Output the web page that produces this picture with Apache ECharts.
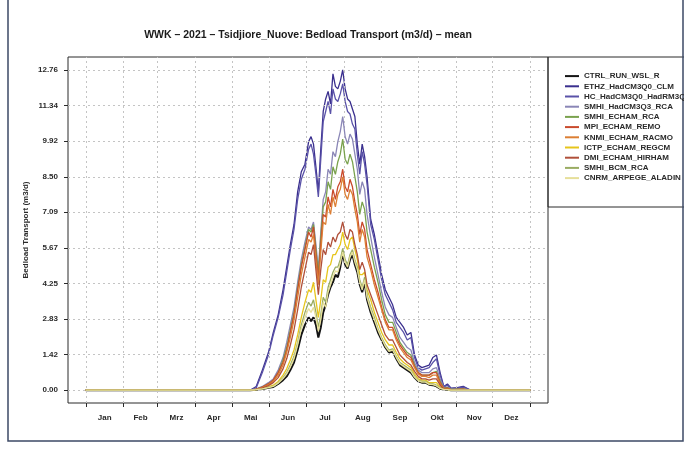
<!DOCTYPE html>
<html>
<head>
<meta charset="utf-8">
<script src="https://cdn.jsdelivr.net/npm/echarts@6/dist/echarts.min.js"></script>
<style>html,body{margin:0;padding:0;background:#fff;}#c{width:684px;height:450px;}</style>
</head>
<body>
<div id="c"></div>
<script>
// ---- data (day of year, 0 = 1 Jan) ----
const days = [0,31,59,90,120,
 130,135,140,145,150, 154,158,162,165,168, 171,174,177,180,183,
 185,187,189,191,193, 195,197,199,201,203, 205,207,209,211,213,
 215,217,219,221,223, 225,227,229,231,234, 237,240,243,246,249,
 252,255,258,261,264, 267,270,273,276,279, 282,285,288,291,294,
 297,300,305,310,315, 320,335,365];

const CTRL_RUN_WSL_R = [0,0,0,0,0,
 0,0,0.02,0.05,0.1, 0.13,0.25,0.4,0.55,0.8, 1.1,1.6,2.2,2.6,2.9,
 2.75,2.9,2.6,2.1,2.5, 3.1,3.4,3.8,4.1,4.3, 4.6,4.5,4.9,5.45,5.0,
 4.85,5.2,5.4,5.0,4.7, 4.2,3.9,4.3,3.6,3.1, 2.7,2.3,2.0,1.7,1.5,
 1.55,1.25,1.0,0.9,0.8, 0.7,0.5,0.35,0.3,0.3, 0.22,0.2,0.15,0.06,0.03,
 0.02,0,0,0,0, 0,0,0];
const ETHZ_HadCM3Q0_CLM = [0,0,0,0,0,
 0,0,0.15,0.8,1.5, 2.3,3.0,4.0,4.9,5.8, 6.6,7.9,8.7,9.0,9.9,
 10.1,9.8,8.9,7.9,9.6, 11.1,11.6,11.9,11.4,12.6, 12.1,12.0,12.3,12.76,12.0,
 11.6,11.5,11.2,10.9,9.8, 9.0,9.8,9.3,8.5,6.8, 6.2,5.4,4.6,4.0,3.7,
 3.4,2.9,2.7,2.5,2.2, 2.3,1.4,1.0,0.9,0.95, 1.0,1.3,1.4,0.7,0.15,
 0.25,0.08,0.1,0.15,0.02, 0,0,0];
const HC_HadCM3Q0_HadRM3Q0 = [0,0,0,0,0,
 0,0,0.1,0.7,1.4, 2.2,2.9,3.8,4.7,5.6, 6.4,7.6,8.4,8.8,9.6,
 9.8,9.4,8.6,7.7,9.2, 10.7,11.1,11.5,11.0,12.0, 11.6,11.5,11.8,12.2,11.5,
 11.1,11.0,10.6,10.4,9.4, 8.6,9.5,9.0,8.2,6.6, 6.0,5.2,4.4,3.8,3.5,
 3.2,2.7,2.5,2.3,2.0, 2.1,1.3,0.9,0.8,0.85, 0.9,1.1,1.25,0.6,0.12,
 0.2,0.06,0.08,0.12,0.02, 0,0,0];
const SMHI_HadCM3Q3_RCA = [0,0,0,0,0,
 0,0,0.05,0.15,0.3, 0.45,0.8,1.3,1.9,2.6, 3.3,4.3,5.2,5.9,6.5,
 6.4,6.7,5.8,4.8,6.3, 7.6,7.9,8.8,8.6,9.5, 9.3,9.9,10.3,10.9,10.1,
 9.8,10.2,10.0,9.4,8.8, 7.8,8.3,8.0,7.0,6.1, 5.3,4.6,3.9,3.3,3.0,
 2.9,2.5,2.1,1.9,1.7, 1.6,1.1,0.8,0.7,0.7, 0.7,0.85,0.9,0.45,0.1,
 0.12,0.04,0.05,0.06,0, 0,0,0];
const SMHI_ECHAM_RCA = [0,0,0,0,0,
 0,0,0.04,0.12,0.25, 0.4,0.7,1.2,1.7,2.4, 3.1,4.1,5.0,5.7,6.4,
 6.3,6.6,5.6,4.6,6.1, 7.3,7.5,8.3,8.0,8.9, 8.6,9.1,9.4,10.0,9.2,
 9.0,9.4,9.1,8.5,7.9, 7.0,7.5,7.2,6.3,5.6, 4.9,4.3,3.6,3.0,2.7,
 2.7,2.3,1.9,1.7,1.5, 1.4,1.0,0.7,0.6,0.6, 0.6,0.7,0.75,0.35,0.08,
 0.1,0.03,0.04,0.05,0, 0,0,0];
const MPI_ECHAM_REMO = [0,0,0,0,0,
 0,0,0.04,0.12,0.25, 0.4,0.7,1.1,1.6,2.3, 3.0,4.0,4.9,5.6,6.3,
 6.1,6.5,5.4,4.4,5.8, 7.0,6.9,7.7,7.3,8.0, 7.6,8.1,8.3,8.8,8.1,
 7.9,8.4,8.1,7.5,7.0, 6.2,6.7,6.4,5.6,5.0, 4.4,3.9,3.3,2.8,2.5,
 2.5,2.1,1.8,1.6,1.4, 1.3,0.95,0.7,0.6,0.6, 0.6,0.7,0.7,0.3,0.07,
 0.08,0.02,0.03,0.04,0, 0,0,0];
const KNMI_ECHAM_RACMO = [0,0,0,0,0,
 0,0,0.03,0.1,0.22, 0.35,0.6,1.0,1.5,2.1, 2.8,3.7,4.6,5.3,6.0,
 5.9,6.2,5.2,4.2,5.5, 6.7,6.6,7.4,7.0,7.7, 7.3,7.8,8.0,8.5,7.8,
 7.6,8.0,7.8,7.2,6.7, 5.9,6.4,6.1,5.3,4.8, 4.2,3.7,3.2,2.7,2.4,
 2.4,2.0,1.7,1.5,1.3, 1.2,0.9,0.65,0.55,0.55, 0.5,0.6,0.6,0.25,0.06,
 0.06,0.02,0.02,0.03,0, 0,0,0];
const ICTP_ECHAM_REGCM = [0,0,0,0,0,
 0,0,0.02,0.06,0.13, 0.2,0.35,0.6,0.85,1.2, 1.6,2.2,2.9,3.5,4.0,
 3.9,4.3,3.6,2.9,3.6, 4.4,4.3,4.9,5.0,5.4, 5.4,5.6,5.8,6.3,5.8,
 5.6,6.0,6.1,5.6,5.2, 4.6,4.6,4.7,4.0,3.6, 3.1,2.7,2.3,2.0,1.8,
 1.8,1.5,1.25,1.1,1.0, 0.9,0.65,0.45,0.4,0.4, 0.3,0.3,0.3,0.12,0.04,
 0.03,0,0,0,0, 0,0,0];
const DMI_ECHAM_HIRHAM = [0,0,0,0,0,
 0,0,0.03,0.08,0.18, 0.3,0.5,0.85,1.25,1.8, 2.4,3.2,4.1,4.8,5.5,
 5.4,5.8,4.8,3.8,4.8, 5.6,5.4,5.9,5.7,6.1, 5.9,6.2,6.3,6.7,6.2,
 6.0,6.4,6.3,5.8,5.4, 4.8,5.1,4.8,4.2,3.8, 3.4,3.0,2.6,2.2,2.0,
 2.0,1.7,1.4,1.25,1.1, 1.0,0.75,0.55,0.45,0.45, 0.4,0.45,0.45,0.2,0.05,
 0.04,0.01,0.01,0.02,0, 0,0,0];
const SMHI_BCM_RCA = [0,0,0,0,0,
 0,0,0.02,0.05,0.11, 0.16,0.3,0.5,0.7,1.0, 1.35,1.9,2.6,3.1,3.5,
 3.35,3.6,3.1,2.5,3.0, 3.7,3.5,4.1,4.4,4.7, 4.9,4.9,5.2,5.65,5.2,
 5.0,5.4,5.6,5.2,4.9, 4.4,4.1,4.5,3.8,3.3, 2.9,2.45,2.1,1.8,1.6,
 1.65,1.35,1.1,1.0,0.9, 0.8,0.55,0.4,0.35,0.35, 0.25,0.25,0.2,0.08,0.03,
 0.02,0,0,0,0, 0,0,0];
const CNRM_ARPEGE_ALADIN = [0,0,0,0,0,
 0,0,0.02,0.05,0.1, 0.15,0.28,0.46,0.65,0.92, 1.25,1.8,2.45,2.9,3.25,
 3.1,3.3,2.9,2.35,2.8, 3.5,3.3,3.9,4.2,4.5, 4.75,4.7,5.05,5.5,5.1,
 4.9,5.3,5.5,5.1,4.8, 4.3,4.0,4.4,3.7,3.2, 2.8,2.4,2.05,1.75,1.55,
 1.6,1.3,1.05,0.95,0.85, 0.75,0.52,0.38,0.32,0.32, 0.23,0.22,0.17,0.07,0.03,
 0.02,0,0,0,0, 0,0,0];

const seriesNames = ['CTRL_RUN_WSL_R','ETHZ_HadCM3Q0_CLM','HC_HadCM3Q0_HadRM3Q0','SMHI_HadCM3Q3_RCA',
 'SMHI_ECHAM_RCA','MPI_ECHAM_REMO','KNMI_ECHAM_RACMO','ICTP_ECHAM_REGCM','DMI_ECHAM_HIRHAM',
 'SMHI_BCM_RCA','CNRM_ARPEGE_ALADIN'];
const seriesValues = [CTRL_RUN_WSL_R, ETHZ_HadCM3Q0_CLM, HC_HadCM3Q0_HadRM3Q0, SMHI_HadCM3Q3_RCA,
 SMHI_ECHAM_RCA, MPI_ECHAM_REMO, KNMI_ECHAM_RACMO, ICTP_ECHAM_REGCM, DMI_ECHAM_HIRHAM,
 SMHI_BCM_RCA, CNRM_ARPEGE_ALADIN];

const monthNames = ['Jan','Feb','Mrz','Apr','Mai','Jun','Jul','Aug','Sep','Okt','Nov','Dez'];
const monthStarts = [0,31,59,90,120,151,181,212,243,273,304,334,365];
const monthMids = [15.5,45,74.5,105,135.5,166,196.5,227.5,258,288.5,319,349.5];
const yTickLabels = ['0.00','1.42','2.83','4.25','5.67','7.09','8.50','9.92','11.34','12.76'];
const yTickValues = yTickLabels.map(Number);

const titleText = 'WWK \u2013 2021 \u2013 Tsidjiore_Nuove: Bedload Transport (m3/d) \u2013 mean';
const yName = 'Bedload Transport (m3/d)';

// ---- styles ----
const colors = ['#141414','#3a2f8e','#5a52a8','#8a86b6','#7aa24e','#c94a2c','#dc7f34','#e6c51c','#b0503a','#9aac62','#e6df9a'];
const FONT = 'Liberation Sans, Arial, sans-serif';

const series = [];
series.push({
  name: '_grid', type: 'line', data: [], z: 1, silent: true,
  markLine: {
    silent: true, symbol: ['none','none'], label: {show: false}, animation: false,
    lineStyle: {type: [2,3], color: '#c4c4c4', width: 1},
    data: monthStarts.map(v => ({xAxis: v})).concat(yTickValues.map(v => ({yAxis: v})))
  }
});
const drawOrder = [10,9,8,7,6,5,4,3,2,1,0];
seriesNames.forEach((n, i) => {
  series.push({
    name: n, type: 'line', showSymbol: false, symbol: 'none',
    data: days.map((d, k) => [d, seriesValues[i][k]]),
    lineStyle: {color: colors[i], width: i === 0 ? 2 : 1.3},
    itemStyle: {color: colors[i]},
    z: 10 - drawOrder.indexOf(i) + 2,
    animation: false
  });
});

const chart = echarts.init(document.getElementById('c'), null, {renderer: 'canvas'});
chart.setOption({
  animation: false,
  backgroundColor: '#ffffff',
  textStyle: {fontFamily: FONT},
  grid: {left: 68, top: 57, width: 480, height: 346, show: true, borderColor: '#2a2a2a', borderWidth: 1, backgroundColor: 'transparent'},
  xAxis: {
    type: 'value', min: -14.6, max: 379.6, position: 'bottom',
    axisLine: {show: false, onZero: false},
    axisTick: {show: true, customValues: monthStarts, length: 4, inside: false, lineStyle: {color: '#2a2a2a'}},
    axisLabel: {customValues: monthMids, formatter: v => monthNames[monthMids.indexOf(v)], margin: 11,
      fontFamily: FONT, fontSize: 8, fontWeight: 'bold', color: '#2a2a2a'},
    splitLine: {show: false}
  },
  yAxis: {
    type: 'value', min: -0.51, max: 13.27, position: 'left',
    axisLine: {show: false, onZero: false},
    axisTick: {show: true, customValues: yTickValues, length: 4, inside: false, lineStyle: {color: '#2a2a2a'}},
    axisLabel: {customValues: yTickValues, formatter: v => yTickLabels[yTickValues.indexOf(v)], margin: 10,
      fontFamily: FONT, fontSize: 8, fontWeight: 'bold', color: '#2a2a2a'},
    splitLine: {show: false}
  },
  legend: {
    data: seriesNames, orient: 'vertical', left: 565, top: 71, padding: 0,
    icon: 'rect', itemWidth: 14, itemHeight: 2, itemGap: 0,
    textStyle: {fontFamily: FONT, fontSize: 8, fontWeight: 'bold', color: '#2a2a2a', lineHeight: 10.2},
    selectedMode: false
  },
  graphic: [
    {type: 'text', x: 308, y: 30, silent: true, style: {text: titleText, textAlign: 'center', fill: '#1a1a1a',
      font: 'bold 10.5px ' + FONT}},
    {type: 'text', x: 26, y: 230, rotation: Math.PI / 2, silent: true,
      style: {text: yName, textAlign: 'center', textVerticalAlign: 'middle', fill: '#2a2a2a', font: 'bold 8px ' + FONT}},
    {type: 'rect', shape: {x: 548, y: 57, width: 150, height: 150}, style: {fill: 'none', stroke: '#2a2a2a', lineWidth: 1}, silent: true},
    {type: 'rect', shape: {x: 8, y: -5, width: 675, height: 446}, style: {fill: 'none', stroke: '#3d4a66', lineWidth: 1.5}, silent: true}
  ],
  series: series
});
</script>
</body>
</html>
